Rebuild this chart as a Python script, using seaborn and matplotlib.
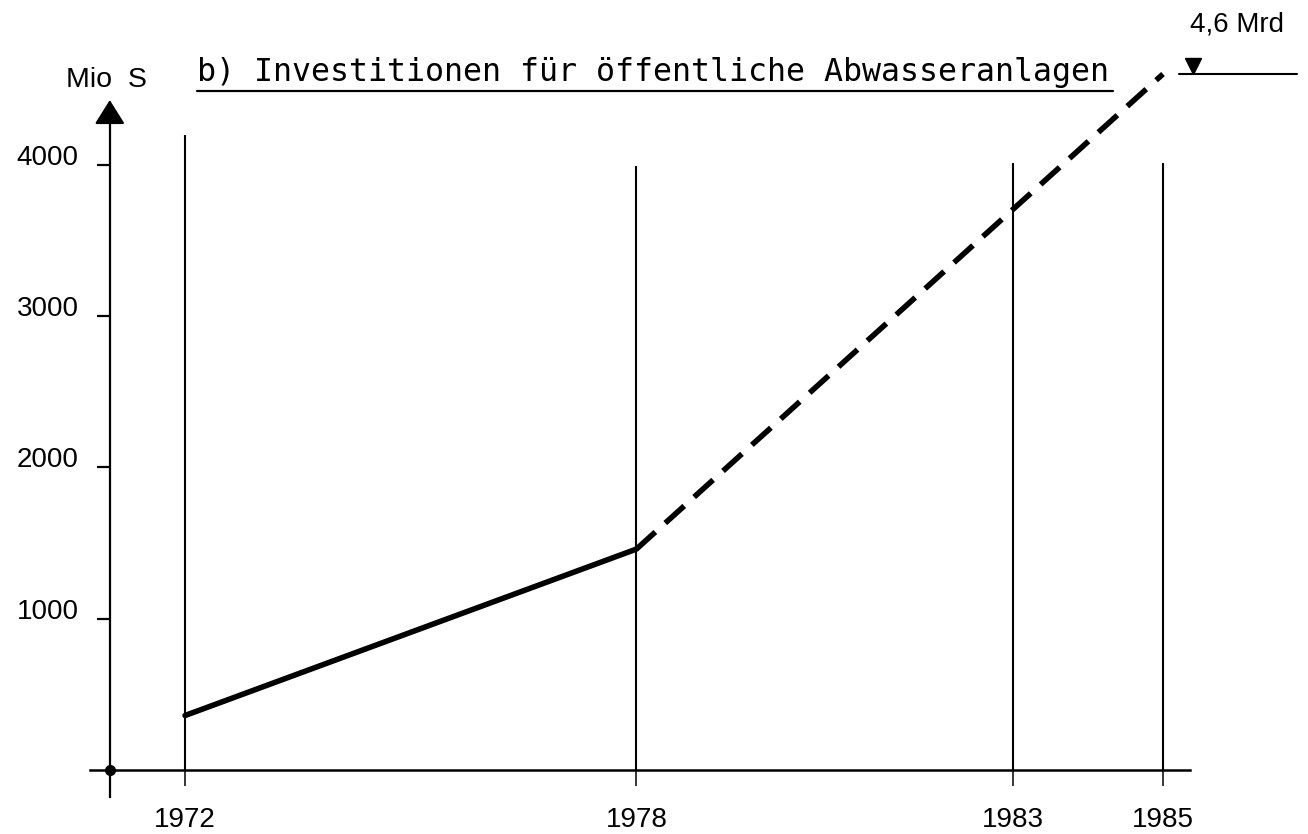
import matplotlib
matplotlib.use("Agg")
import matplotlib.pyplot as plt
import matplotlib.transforms as mtransforms
import seaborn as sns
import pandas as pd

# ---- data ----
years_ist = [1972, 1978]
values_ist = [360, 1460]
years_prog = [1978, 1985]
values_prog = [1460, 4600]
year_ticks = [1972, 1978, 1983, 1985]
year_labels = ["1972", "1978", "1983", "1985"]
grid_tops = [4195, 3990, 4010, 4010]
y_ticks = [1000, 2000, 3000, 4000]
y_labels = ["1000", "2000", "3000", "4000"]
title = "b) Investitionen für öffentliche Abwasseranlagen"
unit_label = "Mio  S"
end_label = "4,6 Mrd"
end_value = 4600

df = pd.DataFrame({
    "Jahr": years_ist + years_prog,
    "Wert": values_ist + values_prog,
    "Teil": ["Ist"] * len(years_ist) + ["Prognose"] * len(years_prog),
})

sns.set_style("white")
plt.rcParams["font.family"] = ["Liberation Sans", "DejaVu Sans"]
plt.rcParams["text.color"] = "black"
plt.rcParams["axes.edgecolor"] = "black"
plt.rcParams["xtick.color"] = "black"
plt.rcParams["ytick.color"] = "black"
plt.rcParams["xtick.labelcolor"] = "black"
plt.rcParams["ytick.labelcolor"] = "black"

W, H = 1308, 834
fig = plt.figure(figsize=(W / 100, H / 100), dpi=100)
ax = fig.add_axes([90 / W, 34 / H, 1100 / W, 780 / H])
ax.set_xlim(1970.737, 1985.359)
ax.set_ylim(-198.3, 4957)
ax.patch.set_alpha(0)

# vertical guide lines
ax.vlines(year_ticks, 0, grid_tops, color="black", lw=1.5, zorder=1)

# data line
sns.lineplot(data=df, x="Jahr", y="Wert", style="Teil",
             dashes={"Ist": "", "Prognose": (4.6, 2.4)},
             color="black", lw=4.0, legend=False, ax=ax, zorder=3,
             clip_on=False)
for ln in ax.get_lines():
    ln.set_dash_capstyle("butt")
    ln.set_solid_capstyle("round")

# spines as axes
for s in ["top", "right"]:
    ax.spines[s].set_visible(False)
ax.spines["left"].set_position(("data", 1971))
ax.spines["left"].set_bounds(-178, 4300)
ax.spines["left"].set_linewidth(1.6)
ax.spines["left"].set_color("black")
ax.spines["bottom"].set_position(("data", 0))
ax.spines["bottom"].set_linewidth(1.8)
ax.spines["bottom"].set_color("black")

# arrow at the top of y axis
ax.annotate("", xy=(1971, 4428), xytext=(1971, 4280),
            arrowprops=dict(arrowstyle="-|>,head_length=0.75,head_width=0.47",
                            mutation_scale=20, color="black", lw=1.6,
                            shrinkA=0, shrinkB=0))
# origin dot
ax.plot([1971], [0], marker="o", color="black", markersize=7, zorder=5)

# ticks
ax.set_xticks(year_ticks)
ax.set_xticklabels(year_labels)
ax.tick_params(axis="x", direction="out", length=11.5, width=1.1,
               pad=15, labelsize=20, bottom=True, colors="black")
ax.set_yticks(y_ticks)
ax.set_yticklabels(y_labels)
ax.tick_params(axis="y", direction="out", length=9.4, width=1.6,
               pad=13, labelsize=20, left=True, colors="black")
shift = mtransforms.ScaledTranslation(0, 7.2 / 72, fig.dpi_scale_trans)
for lab in ax.get_yticklabels():
    lab.set_transform(lab.get_transform() + shift)
ax.set_xlabel("")
ax.set_ylabel("")

# unit label
ax.text(1970.95, 4560, unit_label, ha="center", va="center", fontsize=20.5,
        color="black")

# end marker: level line with triangle and label
ax.plot([1985.21, 1986.78], [end_value, end_value], color="black", lw=1.5,
        clip_on=False)
tri_off = mtransforms.offset_copy(ax.transData, fig=fig, x=0, y=5.8, units="points")
ax.plot([1985.4], [end_value], marker="v", color="black", markersize=12,
        transform=tri_off, clip_on=False)
ax.text(1985.99, 4925, end_label, ha="center", va="center", fontsize=20,
        color="black")

# title with underline
fig.text(197 / W, 1 - 81 / H, title, ha="left", va="baseline",
         fontsize=22.8, family=["DejaVu Sans Mono"], color="black")
fig.add_artist(plt.Line2D([197 / W, 1113 / W], [1 - 91 / H, 1 - 91 / H],
                          color="black", lw=1.6))

fig.savefig("out.png", dpi=100)
